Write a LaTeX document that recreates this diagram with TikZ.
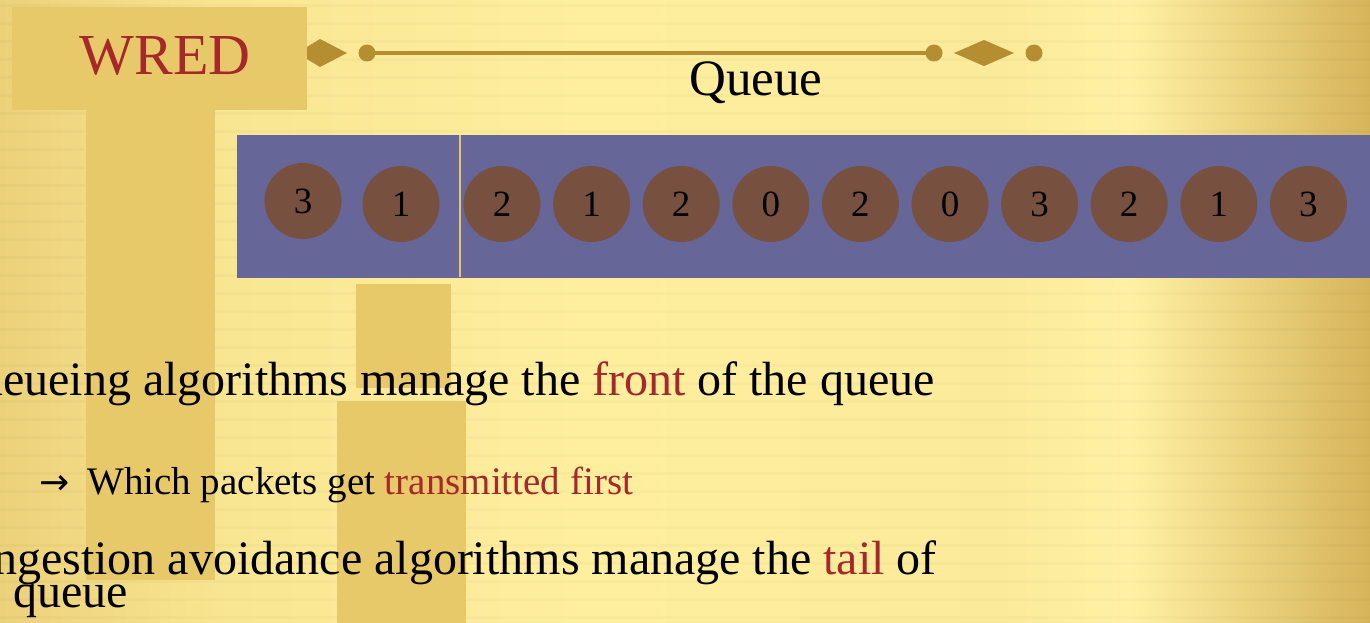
\documentclass[tikz,border=0pt]{standalone}
\usepackage{fontspec}
\setmainfont{Liberation Serif}
\newfontfamily\arrowfont{DejaVu Sans}
\usetikzlibrary{shapes.geometric}
\definecolor{bgA}{HTML}{ECD17A}
\definecolor{bgB}{HTML}{F9E692}
\definecolor{bgC}{HTML}{FEEF9F}
\definecolor{bgD}{HTML}{FBEA9A}
\definecolor{bgE}{HTML}{FFF1A4}
\definecolor{bgF}{HTML}{D7B45A}
\definecolor{tabgold}{HTML}{E8C96A}
\definecolor{ornament}{HTML}{B48E30}
\definecolor{bandblue}{HTML}{666699}
\definecolor{pktbrown}{HTML}{77503F}
\definecolor{accent}{HTML}{A5282B}
\definecolor{divider}{HTML}{E6C46A}
\begin{document}
\begin{tikzpicture}[x=1pt,y=-1pt,
  pkt/.style={ellipse, fill=pktbrown, minimum width=77, minimum height=76,
    inner sep=0pt, text=black, font=\fontsize{37}{37}\selectfont},
  bigline/.style={inner sep=0pt, anchor=base east, font=\fontsize{48}{50}\selectfont},
  subline/.style={inner sep=0pt, anchor=base west, font=\fontsize{39}{40}\selectfont}]
\useasboundingbox (0,0) rectangle (1370,623);
\begin{scope}
\clip (0,0) rectangle (1370,623);
% paper background
\shade[left color=bgA, right color=bgB] (0,0) rectangle (230,623);
\shade[left color=bgB, right color=bgC] (229.5,0) rectangle (600,623);
\shade[left color=bgC, right color=bgD] (599.5,0) rectangle (1000,623);
\shade[left color=bgD, right color=bgE] (999.5,0) rectangle (1130,623);
\shade[left color=bgE, right color=bgF] (1129.5,0) rectangle (1370,623);
\foreach \yy in {4,22,...,622}
  \fill[black, opacity=0.018] (0,\yy) rectangle (1370,\yy+3);

% title ornament
\fill[ornament] (297,53) -- (320,39) -- (347,53) -- (320,67) -- cycle;
\fill[ornament] (367,53) circle[radius=8.5];
\draw[ornament, line width=4.5pt] (367,53) -- (934,53);
\fill[ornament] (934,53) circle[radius=8.5];
\fill[ornament] (954,53) -- (984,40) -- (1014,53) -- (984,66) -- cycle;
\fill[ornament] (1034,53) circle[radius=8.5];

% queue band with packets
\fill[bandblue] (237,135) rectangle (1370,278);
\draw[divider, line width=2.2pt] (460,135) -- (460,277);
\node[pkt] (p1) at (303,201) {3};
\node[pkt] (p2) at (401,204) {1};
\foreach \n/\v [count=\i from 0] in {3/2,4/1,5/2,6/0,7/2,8/0,9/3,10/2,11/1,12/3}
  \node[pkt] (p\n) at ({502+89.6*\i},204) {\v};

% gold tabs
\fill[tabgold] (12,7) rectangle (307,110);
\fill[tabgold] (86,109) rectangle (215,580);
\fill[tabgold] (356,284) rectangle (451,388);
\fill[tabgold] (337,401) rectangle (466,623);

% labels
\node[inner sep=0pt, anchor=base, text=accent, font=\fontsize{58}{58}\selectfont] (wred) at (165,75) {WRED};
\node[inner sep=0pt, anchor=base, font=\fontsize{51}{51}\selectfont] (qtitle) at (756,96) {Queue};

% body text
\node[bigline] (l1) at (935,395) {Queueing algorithms manage the \textcolor{accent}{front} of the queue};
\node[inner sep=0pt, anchor=base west, font=\arrowfont\fontsize{36}{36}\selectfont] (arr) at (39,494) {→};
\node[subline] (l2) at (87,494) {Which packets get \textcolor{accent}{transmitted first}};
\node[bigline] (l3) at (937,574) {Congestion avoidance algorithms manage the \textcolor{accent}{tail} of};
\node[bigline] (l4) at (128,607) {the queue};
\end{scope}
\end{tikzpicture}
\end{document}
